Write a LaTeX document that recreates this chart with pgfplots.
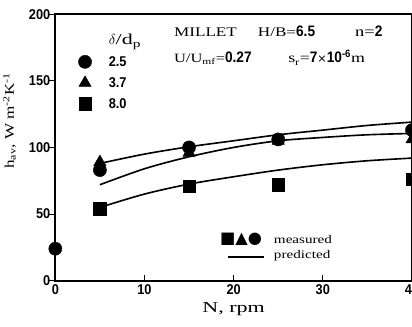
\documentclass[border=0pt]{standalone}
\usepackage{pgfplots}
\pgfplotsset{compat=1.18}
\usepackage{fontspec}
\setmainfont{Liberation Serif}
\newfontfamily\wide[FakeStretch=1.45]{Liberation Serif}
\newfontfamily\widesm[FakeStretch=1.3]{Liberation Serif}
\newfontfamily\num[FakeStretch=0.9]{Liberation Sans}
\newfontfamily\sym{DejaVu Sans}
\newcommand{\bn}[1]{{\num\bfseries #1}}
\begin{document}
\begin{tikzpicture}[trim axis right]
\begin{axis}[
  scale only axis,
  width=352pt, height=263pt,
  xmin=0, xmax=40, ymin=0, ymax=200,
  xtick={0,10,20,30,40},
  ytick={0,50,100,150,200},
  axis line style={line width=1.8pt},
  x tick style={line width=1pt, black}, y tick style={line width=1pt, black},
  major tick length=6pt,
  xtick align=inside, ytick align=outside,
  xtick pos=bottom, ytick pos=left,
  /pgf/number format/assume math mode=true,
  tick label style={font=\num\bfseries\fontsize{14}{15}\selectfont},
  yticklabel style={xshift=4.5pt},
  xlabel={\wide\fontsize{15}{17}\selectfont N, rpm},
  ylabel={\widesm\fontsize{13}{15}\selectfont h\textsubscript{av}, W m\textsuperscript{-2}K\textsuperscript{-1}},
  xlabel style={at={(axis description cs:0.5,-0.105)}, anchor=center},
  ylabel style={at={(axis description cs:-0.128,0.6)}, anchor=center},
  legend cell align=left,
  legend style={at={(axis description cs:0.05,0.94)}, anchor=north west,
    draw=none, fill=none, row sep=5.5pt,
    font=\num\bfseries\fontsize{14}{15}\selectfont,
    /tikz/every odd column/.append style={column sep=15pt}},
]
\addlegendimage{empty legend}
\addlegendentry{\mdseries\wide\fontsize{15}{17}\selectfont $\delta$/d\textsubscript{p}}
% predicted curves
\addplot[line width=1.6pt, smooth, forget plot] coordinates {(5,88) (10,95) (15,100.5) (20,105) (25,109.5) (30,113) (35,116.5) (40,119)};
\addplot[line width=1.6pt, smooth, forget plot] coordinates {(5,72) (10,84) (15,93) (20,100) (25,105) (30,107.5) (35,109.5) (40,110.5)};
\addplot[line width=1.6pt, smooth, forget plot] coordinates {(5,55) (10,65) (15,72.5) (20,78) (25,83) (30,87) (35,90) (40,92)};
% measured
\addplot[only marks, mark=*, mark size=6.5pt, black] coordinates {(0,24) (5,83) (15,100) (25,106) (40,113)};
\addlegendentry{2.5}
\addplot[only marks, mark=triangle*, mark size=7pt, black] coordinates {(5,89) (15,96) (25,105) (40,106)};
\addlegendentry{3.7}
\addplot[only marks, mark=square*, mark size=6.2pt, black] coordinates {(5,54) (15,71) (25,72) (40,76)};
\addlegendentry{8.0}
% annotations
\node[anchor=base west, inner sep=0pt] at (axis cs:13.3,183) {\widesm\fontsize{13}{14}\selectfont MILLET};
\node[anchor=base west, inner sep=0pt] at (axis cs:22.7,183) {\widesm\fontsize{13}{14}\selectfont H/B=\bn{\fontsize{15}{16}\selectfont 6.5}};
\node[anchor=base west, inner sep=0pt] at (axis cs:33.6,183) {\widesm\fontsize{14}{15}\selectfont n=\bn{\fontsize{15}{16}\selectfont 2}};
\node[anchor=base west, inner sep=0pt] at (axis cs:13.3,163.5) {\widesm\fontsize{12.5}{13}\selectfont U/U\textsubscript{mf}=\bn{\fontsize{15}{16}\selectfont 0.27}};
\node[anchor=base west, inner sep=0pt] at (axis cs:26.1,163.5) {\widesm\fontsize{13.5}{14}\selectfont s\textsubscript{r}=\bn{\fontsize{15}{16}\selectfont 7}{\sym\fontsize{11}{12}\selectfont ×}\bn{\fontsize{15}{16}\selectfont 10\textsuperscript{-6}}m};
\node[anchor=west, inner sep=0pt] at (axis cs:24.5,31) {\widesm\fontsize{11.5}{13}\selectfont measured};
\node[anchor=west, inner sep=0pt] at (axis cs:24.5,19) {\widesm\fontsize{11.5}{13}\selectfont predicted};
\node[anchor=east, inner sep=0pt] at (axis cs:23.2,31) {\sym\fontsize{16}{18}\selectfont ■▲●};
\node[anchor=east, inner sep=0pt] at (axis cs:23.4,18) {\rule[0pt]{35pt}{1.6pt}};
\end{axis}
\path ([yshift=14pt]current axis.north west);
\path ([yshift=-45pt]current axis.south west);
\end{tikzpicture}
\end{document}
